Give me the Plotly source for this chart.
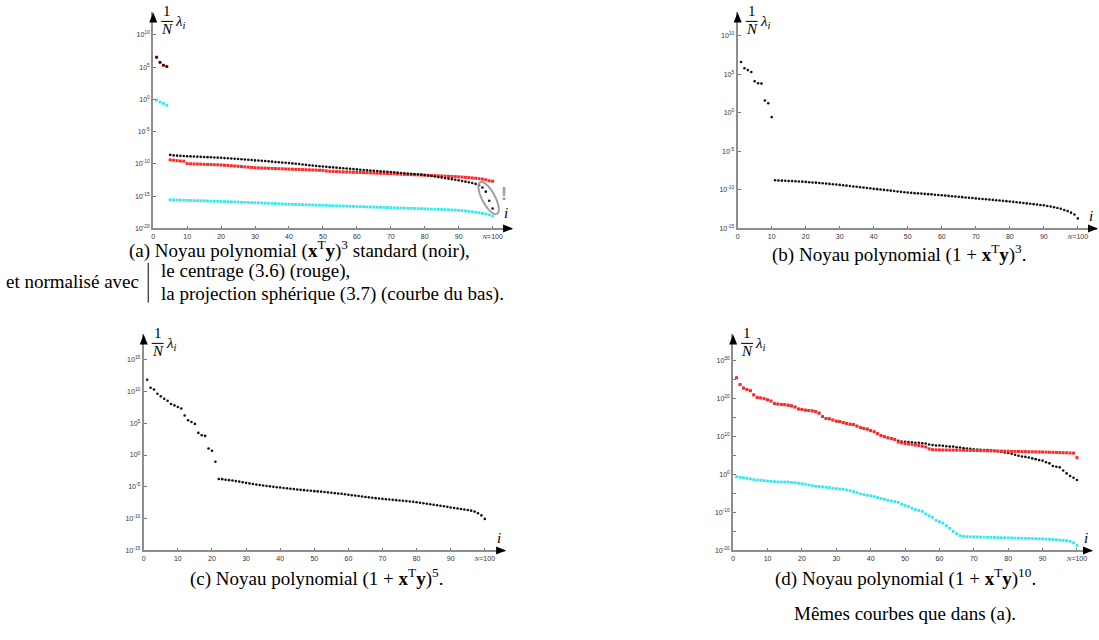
import math
import plotly.graph_objects as go

W, H = 1099, 640

# eigenvalue rank
idx = list(range(1, 101))

# log10 of (1/N) lambda_i, panel (a): (x'y)^3
a_standard = [
    6.55, 5.75, 5.30, 5.10, -8.60, -8.68, -8.72, -8.75, -8.78, -8.80,
    -8.83, -8.85, -8.87, -8.90, -8.92, -8.95, -8.97, -9.00, -9.03, -9.06,
    -9.10, -9.13, -9.16, -9.20, -9.24, -9.28, -9.32, -9.36, -9.40, -9.45,
    -9.48, -9.52, -9.56, -9.60, -9.65, -9.70, -9.74, -9.78, -9.82, -9.87,
    -9.92, -9.97, -10.02, -10.08, -10.14, -10.20, -10.26, -10.31, -10.36, -10.41,
    -10.45, -10.50, -10.54, -10.58, -10.62, -10.66, -10.70, -10.75, -10.80, -10.85,
    -10.90, -10.94, -10.98, -11.02, -11.06, -11.10, -11.14, -11.18, -11.22, -11.26,
    -11.30, -11.35, -11.40, -11.44, -11.48, -11.52, -11.56, -11.60, -11.66, -11.72,
    -11.80, -11.88, -11.96, -12.04, -12.12, -12.20, -12.28, -12.36, -12.45, -12.55,
    -12.65, -12.75, -12.85, -12.95, -13.10, -13.30, -13.65, -14.30, -15.70, -16.90,
]
a_centered = [
    6.55, 5.75, 5.30, 5.10, -9.38, -9.42, -9.50, -9.55, -9.58, -9.95,
    -9.97, -10.00, -10.02, -10.04, -10.06, -10.08, -10.10, -10.12, -10.14, -10.16,
    -10.20, -10.24, -10.28, -10.32, -10.36, -10.40, -10.45, -10.50, -10.55, -10.60,
    -10.62, -10.64, -10.66, -10.68, -10.70, -10.72, -10.74, -10.76, -10.78, -10.80,
    -10.82, -10.84, -10.86, -10.88, -10.90, -10.92, -10.94, -10.96, -10.98, -11.00,
    -11.10, -11.14, -11.17, -11.19, -11.21, -11.23, -11.25, -11.27, -11.29, -11.31,
    -11.33, -11.35, -11.37, -11.39, -11.41, -11.43, -11.45, -11.47, -11.49, -11.51,
    -11.53, -11.56, -11.59, -11.62, -11.64, -11.66, -11.68, -11.70, -11.72, -11.75,
    -11.78, -11.80, -11.82, -11.85, -11.87, -11.89, -11.92, -11.94, -11.97, -12.00,
    -12.04, -12.08, -12.12, -12.17, -12.22, -12.28, -12.36, -12.45, -12.62, -12.68,
]
a_spherical = [
    -0.10, -0.40, -0.62, -0.90, -15.56, -15.58, -15.60, -15.62, -15.63, -15.65,
    -15.66, -15.68, -15.70, -15.71, -15.73, -15.74, -15.76, -15.78, -15.80, -15.82,
    -15.84, -15.86, -15.88, -15.90, -15.92, -15.94, -15.96, -15.98, -16.00, -16.02,
    -16.04, -16.06, -16.08, -16.10, -16.12, -16.14, -16.17, -16.19, -16.22, -16.24,
    -16.26, -16.28, -16.30, -16.32, -16.34, -16.35, -16.37, -16.39, -16.40, -16.42,
    -16.44, -16.46, -16.48, -16.49, -16.51, -16.53, -16.55, -16.56, -16.58, -16.60,
    -16.62, -16.64, -16.66, -16.67, -16.69, -16.71, -16.73, -16.74, -16.76, -16.78,
    -16.80, -16.82, -16.84, -16.85, -16.87, -16.89, -16.90, -16.92, -16.94, -16.96,
    -16.98, -17.00, -17.02, -17.04, -17.06, -17.09, -17.11, -17.14, -17.17, -17.20,
    -17.25, -17.30, -17.35, -17.42, -17.50, -17.58, -17.67, -17.77, -17.90, -18.10,
]

# panel (b): (1 + x'y)^3
b_standard = [
    6.60, 5.80, 5.55, 5.30, 4.10, 3.85, 3.80, 1.60, 1.25, -0.55,
    -8.75, -8.78, -8.80, -8.82, -8.84, -8.86, -8.88, -8.90, -8.93, -8.96,
    -9.00, -9.03, -9.06, -9.10, -9.14, -9.18, -9.22, -9.26, -9.30, -9.35,
    -9.40, -9.45, -9.50, -9.55, -9.60, -9.65, -9.70, -9.75, -9.80, -9.86,
    -9.90, -9.95, -10.00, -10.05, -10.10, -10.15, -10.20, -10.25, -10.30, -10.35,
    -10.38, -10.42, -10.45, -10.48, -10.52, -10.55, -10.58, -10.62, -10.66, -10.70,
    -10.74, -10.78, -10.82, -10.86, -10.90, -10.94, -10.98, -11.02, -11.06, -11.10,
    -11.14, -11.18, -11.22, -11.26, -11.30, -11.34, -11.38, -11.42, -11.46, -11.50,
    -11.55, -11.60, -11.65, -11.70, -11.75, -11.80, -11.85, -11.90, -11.95, -12.00,
    -12.08, -12.16, -12.25, -12.35, -12.45, -12.60, -12.75, -12.95, -13.20, -13.70,
]

# panel (c): (1 + x'y)^5
c_standard = [
    11.83, 10.57, 10.30, 9.63, 9.22, 8.85, 8.54, 8.02, 7.80, 7.55,
    7.30, 6.20, 5.46, 5.20, 4.89, 3.48, 3.11, 3.00, 1.03, 0.66,
    -1.06, -3.77, -3.80, -3.88, -3.95, -4.02, -4.10, -4.18, -4.28, -4.38,
    -4.46, -4.55, -4.65, -4.72, -4.80, -4.87, -4.93, -5.00, -5.06, -5.12,
    -5.18, -5.24, -5.30, -5.36, -5.42, -5.48, -5.53, -5.58, -5.63, -5.68,
    -5.72, -5.76, -5.82, -5.88, -5.94, -6.00, -6.05, -6.10, -6.18, -6.26,
    -6.32, -6.38, -6.45, -6.52, -6.60, -6.66, -6.72, -6.78, -6.84, -6.90,
    -6.95, -7.00, -7.05, -7.10, -7.15, -7.20, -7.25, -7.30, -7.36, -7.42,
    -7.50, -7.58, -7.66, -7.74, -7.82, -7.90, -7.98, -8.06, -8.15, -8.25,
    -8.33, -8.40, -8.48, -8.56, -8.65, -8.75, -8.90, -9.15, -9.50, -10.05,
]

# panel (d): (1 + x'y)^10
d_centered = [
    25.4, 23.6, 22.7, 22.3, 22.0, 20.9, 20.2, 20.1, 19.9, 19.6,
    19.3, 18.6, 18.5, 18.4, 18.3, 18.2, 18.0, 17.7, 17.2, 17.1,
    16.9, 16.8, 16.7, 16.5, 16.1, 15.2, 14.7, 14.6, 14.3, 14.0,
    13.9, 13.6, 13.4, 13.2, 13.1, 12.7, 12.3, 12.1, 11.9, 11.5,
    11.2, 10.7, 10.2, 9.9, 9.6, 9.4, 9.2, 8.5, 8.3, 8.1,
    8.0, 7.9, 7.7, 7.6, 7.4, 7.2, 6.7, 6.5, 6.45, 6.45,
    6.42, 6.40, 6.40, 6.38, 6.36, 6.35, 6.33, 6.32, 6.30, 6.28,
    6.26, 6.24, 6.22, 6.20, 6.18, 6.16, 6.14, 6.12, 6.10, 6.08,
    6.06, 6.04, 6.02, 6.00, 5.98, 5.96, 5.94, 5.92, 5.90, 5.88,
    5.85, 5.82, 5.79, 5.76, 5.73, 5.70, 5.67, 5.63, 5.60, 4.40,
]
d_standard = [
    25.4, 23.6, 22.7, 22.3, 22.0, 20.9, 20.2, 20.1, 19.9, 19.6,
    19.3, 18.6, 18.5, 18.4, 18.3, 18.2, 18.0, 17.7, 17.2, 17.1,
    16.9, 16.8, 16.7, 16.5, 16.1, 15.2, 14.7, 14.6, 14.3, 14.0,
    13.9, 13.6, 13.4, 13.2, 13.1, 12.7, 12.3, 12.1, 11.9, 11.5,
    11.2, 10.7, 10.2, 9.9, 9.6, 9.4, 9.2, 8.8, 8.6, 8.55,
    8.5, 8.4, 8.3, 8.3, 8.2, 8.1, 7.85, 7.7, 7.6, 7.6,
    7.5, 7.4, 7.3, 7.3, 7.15, 7.05, 6.9, 6.8, 6.7, 6.6,
    6.55, 6.45, 6.4, 6.4, 6.3, 6.2, 6.1, 5.95, 5.75, 5.6,
    5.4, 5.15, 4.9, 4.7, 4.6, 4.45, 4.2, 4.0, 3.75, 3.6,
    3.2, 2.9, 2.2, 2.0, 1.85, 1.0, 0.25, -0.45, -0.9, -1.5,
]
d_spherical = [
    -0.6, -0.8, -0.9, -1.05, -1.2, -1.4, -1.5, -1.55, -1.65, -1.75,
    -1.85, -1.9, -2.0, -2.0, -2.0, -2.0, -2.1, -2.2, -2.35, -2.45,
    -2.6, -2.8, -2.95, -3.15, -3.2, -3.3, -3.4, -3.5, -3.65, -3.75,
    -3.85, -3.9, -4.1, -4.3, -4.55, -4.8, -5.15, -5.3, -5.5, -5.65,
    -5.85, -6.1, -6.35, -6.55, -6.8, -7.0, -7.15, -7.35, -7.85, -8.2,
    -8.45, -8.9, -9.25, -9.5, -9.75, -10.4, -10.9, -11.3, -12.1, -12.45,
    -12.8, -13.5, -14.2, -15.0, -15.6, -16.1, -16.3, -16.4, -16.42, -16.45,
    -16.47, -16.5, -16.52, -16.55, -16.57, -16.6, -16.62, -16.65, -16.67, -16.7,
    -16.72, -16.75, -16.77, -16.8, -16.82, -16.85, -16.88, -16.91, -16.94, -16.97,
    -17.02, -17.08, -17.14, -17.2, -17.28, -17.36, -17.45, -17.6, -18.0, -18.7,
]

x_ticks = [0, 10, 20, 30, 40, 50, 60, 70, 80, 90, 100]
x_ticktext = ["0", "10", "20", "30", "40", "50", "60", "70", "80", "90",
              "<span style='font-family:Liberation Serif'><i>N</i></span>=100"]

BLACK, RED, CYAN = "#111111", "#ff2a2a", "#35e8ee"
SERIF = "Liberation Serif"
SANS = "Liberation Sans"
AXIS_GREY = "#8e8e8e"

# panel geometry in page pixels: origin (ox, oy), arrow tips, scale
panels = [
    dict(ox=151.5, oy=229.5, xtip=511, ytip=12.5, ppu=3.40, ybot=-20, ppd=6.48,
         yticks=list(range(-20, 11, 5)), ylabels=list(range(-20, 11, 5)), ilabel_dy=15,
         series=[(a_spherical, CYAN, 2.8, "square"), (a_centered, RED, 3.0, "square"),
                 (a_standard, BLACK, 2.6, "circle")]),
    dict(ox=737.0, oy=229.5, xtip=1097, ytip=12.5, ppu=3.408, ybot=-15, ppd=7.74,
         yticks=list(range(-15, 11, 5)), ylabels=list(range(-15, 11, 5)), ilabel_dy=12,
         series=[(b_standard, BLACK, 2.6, "circle")]),
    dict(ox=142.0, oy=553.0, xtip=504, ytip=336, ppu=3.417, ybot=-15, ppd=6.39,
         yticks=list(range(-15, 16, 5)), ylabels=list(range(-15, 16, 5)), ilabel_dy=12,
         series=[(c_standard, BLACK, 2.6, "circle")]),
    dict(ox=732.5, oy=553.0, xtip=1092, ytip=336, ppu=3.444, ybot=-20, ppd=3.82,
         yticks=list(range(-20, 31, 5)), ylabels=list(range(-20, 31, 10)), ilabel_dy=12,
         series=[(d_spherical, CYAN, 2.8, "square"), (d_standard, BLACK, 2.6, "circle"),
                 (d_centered, RED, 3.0, "square")]),
]


def fx(x):
    return x / W


def fy(y):
    return 1 - y / H


fig = go.Figure()
shapes = []
annotations = []
layout_axes = {}

for n, p in enumerate(panels, start=1):
    xa = "x" if n == 1 else f"x{n}"
    ya = "y" if n == 1 else f"y{n}"
    xkey = "xaxis" if n == 1 else f"xaxis{n}"
    ykey = "yaxis" if n == 1 else f"yaxis{n}"

    for vals, color, size, symbol in p["series"]:
        fig.add_trace(go.Scatter(
            x=idx, y=[10.0 ** v for v in vals], mode="markers",
            marker=dict(color=color, size=size, symbol=symbol, line=dict(width=0)),
            xaxis=xa, yaxis=ya, cliponaxis=False, hoverinfo="skip", showlegend=False,
        ))

    ox, oy, xtip, ytip = p["ox"], p["oy"], p["xtip"], p["ytip"]
    layout_axes[xkey] = dict(
        domain=[fx(ox), fx(xtip)], range=[0, (xtip - ox) / p["ppu"]], anchor=ya,
        showgrid=False, zeroline=False, showline=True, linecolor=AXIS_GREY, linewidth=2,
        ticks="inside", ticklen=2, tickcolor="#777", tickwidth=1,
        tickvals=x_ticks, ticktext=x_ticktext,
        tickfont=dict(family=SANS, size=7, color="#333"), fixedrange=True,
    )
    layout_axes[ykey] = dict(
        type="log", domain=[fy(oy), fy(ytip)],
        range=[p["ybot"], p["ybot"] + (oy - ytip) / p["ppd"]], anchor=xa,
        showgrid=False, zeroline=False, showline=True, linecolor=AXIS_GREY, linewidth=2,
        ticks="inside", ticklen=3, tickcolor="#777", tickwidth=1,
        tickvals=[10.0 ** e for e in p["yticks"]],
        ticktext=[f"10<sup>{e}</sup>" if e in p["ylabels"] else "" for e in p["yticks"]],
        tickfont=dict(family=SANS, size=7, color="#333"), fixedrange=True,
    )

    # arrow heads
    shapes.append(dict(
        type="path", xref="paper", yref="paper", fillcolor="black", line=dict(width=0),
        path=(f"M {fx(ox)},{fy(ytip)} L {fx(ox - 4)},{fy(ytip + 10)} "
              f"L {fx(ox + 4)},{fy(ytip + 10)} Z"),
    ))
    shapes.append(dict(
        type="path", xref="paper", yref="paper", fillcolor="black", line=dict(width=0),
        path=(f"M {fx(xtip + 1)},{fy(oy)} L {fx(xtip - 9)},{fy(oy - 4)} "
              f"L {fx(xtip - 9)},{fy(oy + 4)} Z"),
    ))

    # 1/N lambda_i axis title
    annotations.append(dict(text="1", x=fx(ox + 14), y=fy(ytip - 1), xref="paper", yref="paper",
                            showarrow=False, font=dict(family=SERIF, size=15, color="black"),
                            xanchor="center", yanchor="middle"))
    shapes.append(dict(type="line", xref="paper", yref="paper",
                       x0=fx(ox + 8), x1=fx(ox + 20), y0=fy(ytip + 9), y1=fy(ytip + 9),
                       line=dict(color="black", width=1)))
    annotations.append(dict(text="<i>N</i>", x=fx(ox + 14), y=fy(ytip + 17), xref="paper",
                            yref="paper", showarrow=False,
                            font=dict(family=SERIF, size=15, color="black"),
                            xanchor="center", yanchor="middle"))
    annotations.append(dict(text="<i>λ<sub>i</sub></i>", x=fx(ox + 20), y=fy(ytip + 10),
                            xref="paper", yref="paper", showarrow=False,
                            font=dict(family=SERIF, size=15, color="black"),
                            xanchor="left", yanchor="middle"))
    # i axis title
    annotations.append(dict(text="<i>i</i>", x=fx(xtip - 6), y=fy(oy - p["ilabel_dy"]),
                            xref="paper", yref="paper", showarrow=False,
                            font=dict(family=SERIF, size=15, color="black"),
                            xanchor="center", yanchor="middle"))

# loop around the last eigenvalues of the standard kernel in (a)
cx, cy, ra, rb, ang = 487.5, 199.0, 18.0, 6.5, math.radians(62)
loop = []
for k in range(49):
    t = 2 * math.pi * k / 48
    px_ = cx + ra * math.cos(t) * math.cos(ang) - rb * math.sin(t) * math.sin(ang)
    py_ = cy + ra * math.cos(t) * math.sin(ang) + rb * math.sin(t) * math.cos(ang)
    loop.append(f"{fx(px_)},{fy(py_)}")
shapes.append(dict(type="path", xref="paper", yref="paper",
                   path="M " + " L ".join(loop) + " Z",
                   line=dict(color="#a0a0a0", width=2), fillcolor="rgba(0,0,0,0)"))
annotations.append(dict(text="<b>!</b>", x=fx(503), y=fy(195), xref="paper", yref="paper",
                        showarrow=False, font=dict(family=SANS, size=18, color="#a0a0a0"),
                        xanchor="center", yanchor="middle"))

# captions
CAP = dict(family=SERIF, size=19, color="black")
XTY = "<b>x</b><sup>T</sup><b>y</b>"


def caption(text, x, y, anchor="center"):
    annotations.append(dict(text=text, x=fx(x), y=fy(y), xref="paper", yref="paper",
                            showarrow=False, font=CAP, xanchor=anchor, yanchor="middle"))


caption(f"(a) Noyau polynomial ({XTY})<sup>3</sup> standard (noir),", 298, 251)
caption("et normalisé avec", 139, 283, "right")
caption("le centrage (3.6) (rouge),", 157, 272, "left")
caption("la projection sphérique (3.7) (courbe du bas).", 157, 295, "left")
shapes.append(dict(type="line", xref="paper", yref="paper", x0=fx(146.5), x1=fx(146.5),
                   y0=fy(264), y1=fy(304), line=dict(color="black", width=1)))
caption(f"(b) Noyau polynomial (1 + {XTY})<sup>3</sup>.", 899, 255)
caption(f"(c) Noyau polynomial (1 + {XTY})<sup>5</sup>.", 315, 580)
caption(f"(d) Noyau polynomial (1 + {XTY})<sup>10</sup>.", 905, 580)
caption("Mêmes courbes que dans (a).", 905, 617)

fig.update_layout(
    width=W, height=H, margin=dict(l=0, r=0, t=0, b=0),
    paper_bgcolor="white", plot_bgcolor="white",
    shapes=shapes, annotations=annotations, **layout_axes,
)

fig.write_html("out.html", config=dict(displayModeBar=False))
